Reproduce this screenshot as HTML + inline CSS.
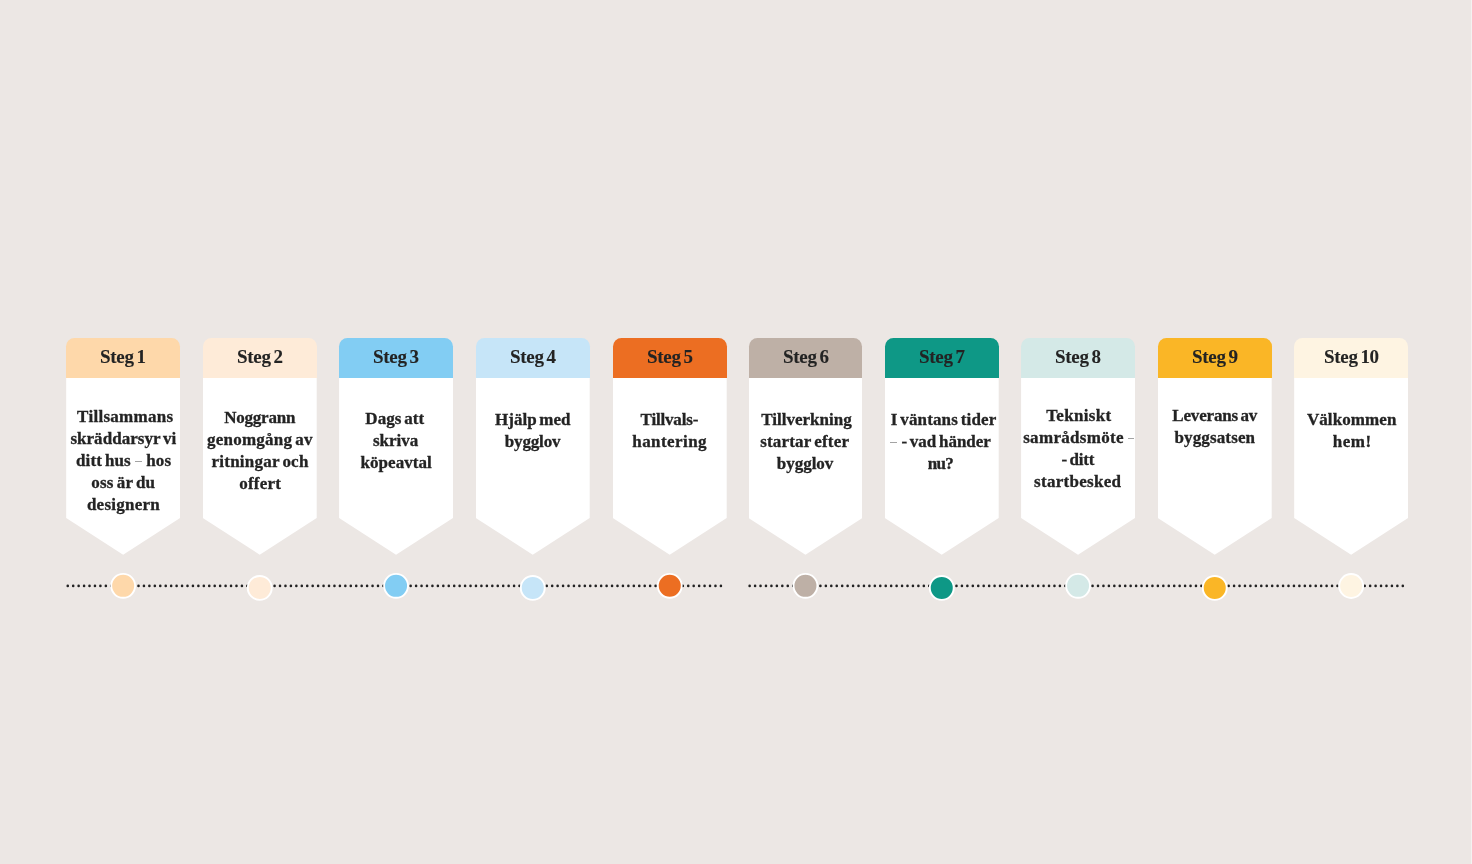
<!DOCTYPE html>
<html><head><meta charset="utf-8"><style>
html,body{margin:0;padding:0;background:#ECE7E4;}
body{width:1472px;height:864px;background:#ECE7E4;position:relative;overflow:hidden;font-family:"Liberation Serif",serif;font-weight:bold;color:#232323;}
.card{position:absolute;top:337.5px;width:113.9px;height:217.3px;}
.body{position:absolute;left:0;top:40.1px;width:100%;bottom:0;background:#fff;}
.hd{position:absolute;left:0;top:0;width:100%;height:40.1px;border-radius:8.5px 8.5px 0 0;text-align:center;font-size:17px;line-height:40.1px;}
.hd span{display:inline-block;position:relative;top:-0.6px;will-change:transform;-webkit-text-stroke:0.1px #232323;font-size:19px;letter-spacing:-0.3px;word-spacing:-1.7px;margin-right:-0.3px;}
.tx{position:absolute;left:-8px;right:-8px;text-align:center;font-size:17px;line-height:21.9px;white-space:nowrap;word-spacing:-1.5px;will-change:transform;-webkit-text-stroke:0.3px #232323;}
.d{display:inline-block;width:6.8px;height:1.3px;background:#A3A3A3;vertical-align:3.7px;margin:0 4.3px;}
svg.ln{position:absolute;left:0;top:0;}
.edge{position:absolute;right:0;top:0;width:1px;height:864px;background:#F4F2F1;}
</style></head><body>
<svg class="ln" width="1472" height="864"><g stroke="#222" stroke-width="2.6" stroke-linecap="round" stroke-dasharray="0 5.443">
<line x1="67.75" y1="585.9" x2="721.15" y2="585.9"/>
<line x1="749.65" y1="585.9" x2="1403.15" y2="585.9"/>
</g>
<circle cx="123.15" cy="585.85" r="11.95" fill="#FED8AA" stroke="#fff" stroke-width="1.9"/>
<circle cx="259.75" cy="587.9" r="11.95" fill="#FEEBD8" stroke="#fff" stroke-width="1.9"/>
<circle cx="396.05" cy="585.85" r="11.95" fill="#82CDF3" stroke="#fff" stroke-width="1.9"/>
<circle cx="532.75" cy="587.9" r="11.95" fill="#C6E5F8" stroke="#fff" stroke-width="1.9"/>
<circle cx="669.75" cy="585.8" r="11.95" fill="#EC6E22" stroke="#fff" stroke-width="1.9"/>
<circle cx="805.45" cy="585.85" r="11.95" fill="#BEB0A6" stroke="#fff" stroke-width="1.9"/>
<circle cx="941.75" cy="587.9" r="11.95" fill="#0E9886" stroke="#fff" stroke-width="1.9"/>
<circle cx="1078.05" cy="585.85" r="11.95" fill="#D4E9E7" stroke="#fff" stroke-width="1.9"/>
<circle cx="1214.75" cy="587.9" r="11.95" fill="#FAB626" stroke="#fff" stroke-width="1.9"/>
<circle cx="1351.15" cy="586.0" r="11.95" fill="#FEF4E2" stroke="#fff" stroke-width="1.9"/>
</svg>
<div class="card" style="left:66.20px">
<div class="body" style="clip-path:polygon(0 0,100% 0,100% 140.3px,50% 100%,0 140.3px)"></div>
<div class="hd" style="background:#FED8AA"><span>Steg 1</span></div>
<div class="tx" style="top:68.0px"><span class=l style="letter-spacing:0.280px;margin-right:-0.280px;position:relative;left:2.20px;">Tillsammans</span><br><span class=l style="letter-spacing:0.034px;margin-right:-0.034px;position:relative;left:0.40px;">skräddarsyr vi</span><br><span class=l style="letter-spacing:0.120px;margin-right:-0.120px;position:relative;left:0.60px;">ditt hus<span class=d></span>hos</span><br><span class=l style="letter-spacing:0.252px;margin-right:-0.252px;position:relative;left:0.20px;">oss är du</span><br><span class=l style="letter-spacing:0.254px;margin-right:-0.254px;position:relative;left:0.40px;">designern</span></div>
</div>

<div class="card" style="left:202.80px">
<div class="body" style="clip-path:polygon(0 0,100% 0,100% 140.3px,50% 100%,0 140.3px)"></div>
<div class="hd" style="background:#FEEBD8"><span>Steg 2</span></div>
<div class="tx" style="top:69.2px"><span class=l style="letter-spacing:-0.226px;margin-right:0.226px;position:relative;left:-0.16px;">Noggrann</span><br><span class=l style="letter-spacing:0.254px;margin-right:-0.254px;position:relative;left:-0.20px;">genomgång av</span><br><span class=l style="letter-spacing:0.233px;margin-right:-0.233px;">ritningar och</span><br><span class=l style="letter-spacing:0.200px;margin-right:-0.200px;position:relative;left:0.10px;">offert</span></div>
</div>

<div class="card" style="left:339.10px">
<div class="body" style="clip-path:polygon(0 0,100% 0,100% 140.3px,50% 100%,0 140.3px)"></div>
<div class="hd" style="background:#82CDF3"><span>Steg 3</span></div>
<div class="tx" style="top:70.6px"><span class=l style="letter-spacing:0.058px;margin-right:-0.058px;position:relative;left:-1.20px;">Dags att</span><br><span class=l style="position:relative;left:-0.40px;">skriva</span><br><span class=l style="letter-spacing:0.054px;margin-right:-0.054px;position:relative;left:0.20px;">köpeavtal</span></div>
</div>

<div class="card" style="left:475.80px">
<div class="body" style="clip-path:polygon(0 0,100% 0,100% 140.3px,50% 100%,0 140.3px)"></div>
<div class="hd" style="background:#C6E5F8"><span>Steg 4</span></div>
<div class="tx" style="top:71.4px"><span class=l style="letter-spacing:0.001px;margin-right:-0.001px;position:relative;left:-0.20px;">Hjälp med</span><br><span class=l style="letter-spacing:-0.167px;margin-right:0.167px;position:relative;left:-0.30px;">bygglov</span></div>
</div>

<div class="card" style="left:612.80px">
<div class="body" style="clip-path:polygon(0 0,100% 0,100% 140.3px,50% 100%,0 140.3px)"></div>
<div class="hd" style="background:#EC6E22"><span>Steg 5</span></div>
<div class="tx" style="top:71.4px"><span class=l style="letter-spacing:-0.175px;margin-right:0.175px;position:relative;left:-0.50px;">Tillvals-</span><br><span class=l style="letter-spacing:0.421px;margin-right:-0.421px;position:relative;left:-0.50px;">hantering</span></div>
</div>

<div class="card" style="left:748.50px">
<div class="body" style="clip-path:polygon(0 0,100% 0,100% 140.3px,50% 100%,0 140.3px)"></div>
<div class="hd" style="background:#BEB0A6"><span>Steg 6</span></div>
<div class="tx" style="top:71.4px"><span class=l style="letter-spacing:0.015px;margin-right:-0.015px;position:relative;left:0.50px;">Tillverkning</span><br><span class=l style="letter-spacing:0.200px;margin-right:-0.200px;position:relative;left:-1.40px;">startar efter</span><br><span class=l style="letter-spacing:-0.031px;margin-right:0.031px;position:relative;left:-0.90px;">bygglov</span></div>
</div>

<div class="card" style="left:884.80px">
<div class="body" style="clip-path:polygon(0 0,100% 0,100% 140.3px,50% 100%,0 140.3px)"></div>
<div class="hd" style="background:#0E9886"><span>Steg 7</span></div>
<div class="tx" style="top:71.4px"><span class=l style="letter-spacing:0.127px;margin-right:-0.127px;position:relative;left:1.50px;">I väntans tider</span><br><span class=l style="letter-spacing:-0.016px;margin-right:0.016px;position:relative;left:-1.30px;"><span class=d style='margin-left:0'></span>- vad händer</span><br><span class=l style="letter-spacing:-0.700px;margin-right:0.700px;position:relative;left:-1.10px;">nu?</span></div>
</div>

<div class="card" style="left:1021.10px">
<div class="body" style="clip-path:polygon(0 0,100% 0,100% 140.3px,50% 100%,0 140.3px)"></div>
<div class="hd" style="background:#D4E9E7"><span>Steg 8</span></div>
<div class="tx" style="top:67.7px"><span class=l style="letter-spacing:0.316px;margin-right:-0.316px;position:relative;left:0.70px;">Tekniskt</span><br><span class=l style="letter-spacing:0.300px;margin-right:-0.300px;position:relative;left:0.30px;">samrådsmöte<span class=d style='margin-right:0;width:5.5px'></span></span><br><span class=l style="letter-spacing:-0.200px;margin-right:0.200px;position:relative;left:-0.10px;">- ditt</span><br><span class=l style="letter-spacing:0.280px;margin-right:-0.280px;position:relative;left:-0.40px;">startbesked</span></div>
</div>

<div class="card" style="left:1157.80px">
<div class="body" style="clip-path:polygon(0 0,100% 0,100% 140.3px,50% 100%,0 140.3px)"></div>
<div class="hd" style="background:#FAB626"><span>Steg 9</span></div>
<div class="tx" style="top:67.7px"><span class=l style="letter-spacing:-0.180px;margin-right:0.180px;position:relative;left:-0.10px;">Leverans av</span><br><span class=l style="letter-spacing:0.134px;margin-right:-0.134px;position:relative;left:-0.20px;">byggsatsen</span></div>
</div>

<div class="card" style="left:1294.20px">
<div class="body" style="clip-path:polygon(0 0,100% 0,100% 140.3px,50% 100%,0 140.3px)"></div>
<div class="hd" style="background:#FEF4E2"><span>Steg 10</span></div>
<div class="tx" style="top:71.4px"><span class=l style="letter-spacing:0.079px;margin-right:-0.079px;position:relative;left:0.70px;">Välkommen</span><br><span class=l style="letter-spacing:0.535px;margin-right:-0.535px;position:relative;left:1.00px;">hem!</span></div>
</div>

<div class="edge"></div>
</body></html>
